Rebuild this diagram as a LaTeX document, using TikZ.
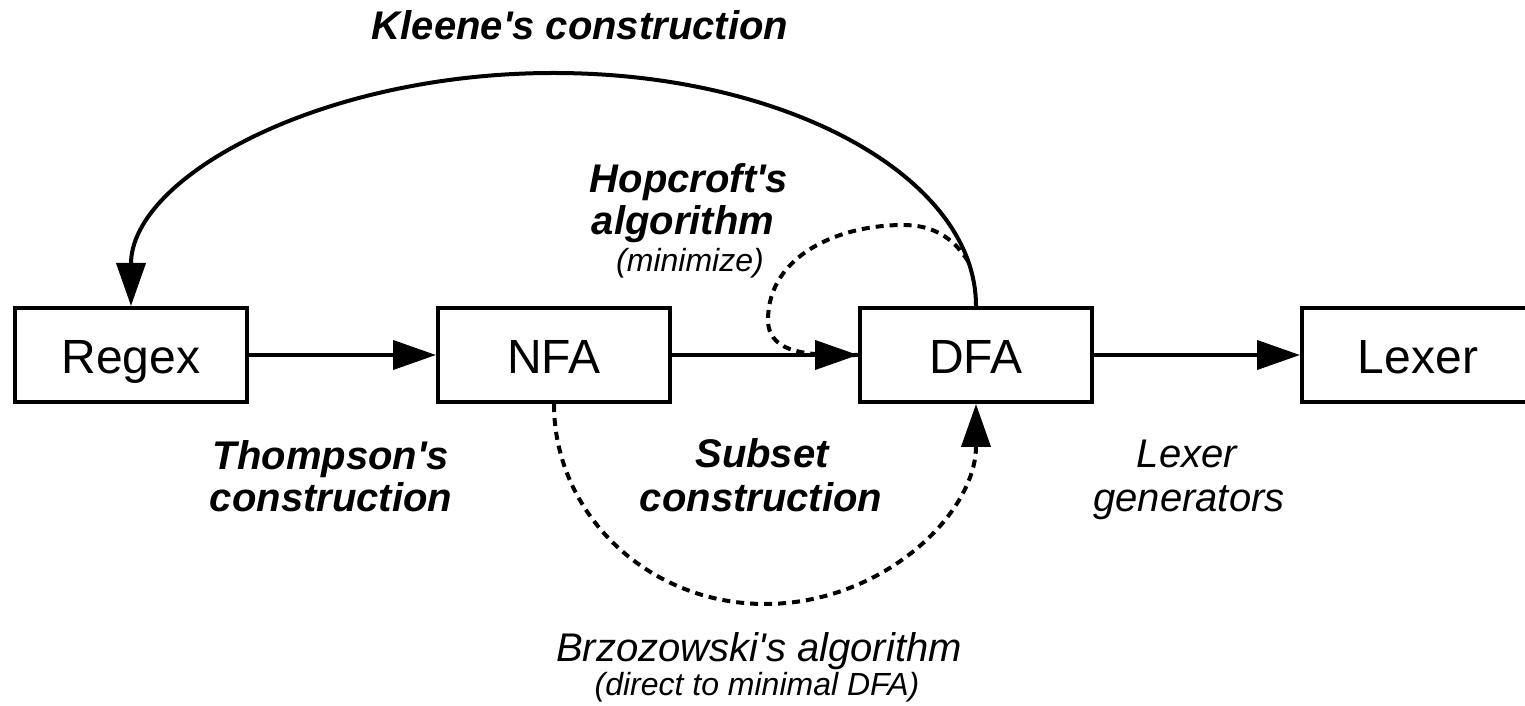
\documentclass[tikz,border=0pt]{standalone}
\usepackage{fontspec}
\newfontfamily\lsans{Liberation Sans}
\usetikzlibrary{arrows.meta,calc}
\begin{document}
\begin{tikzpicture}[x=1pt,y=1pt,
  box/.style={draw, line width=4pt, minimum width=232pt, minimum height=94pt,
    inner sep=0pt, text height=38pt, text depth=0pt, font=\lsans\fontsize{48}{52}\selectfont},
  conn/.style={line width=4pt, -{Triangle[length=43pt,width=29pt]}},
  dashconn/.style={conn, dash pattern=on 8pt off 6pt},
  dashline/.style={line width=4pt, dash pattern=on 8pt off 6pt},
  bl/.style={anchor=base, inner sep=0pt, font=\lsans\bfseries\itshape\fontsize{40}{44}\selectfont},
  il/.style={anchor=base, inner sep=0pt, font=\lsans\itshape\fontsize{40}{44}\selectfont},
  sl/.style={anchor=base, inner sep=0pt, font=\lsans\itshape\fontsize{32}{36}\selectfont}]
\useasboundingbox (0,0) rectangle (1525,706);
\node[box] (regex) at (131,351) {Regex};
\node[box] (nfa) at (554,351) {NFA};
\node[box] (dfa) at (976,351) {DFA};
\node[box] (lexer) at (1418,351) {Lexer};

% Hopcroft loop (dashed, shares the NFA->DFA arrowhead)
\coordinate (hs) at ($(dfa.north)+(-422.5,0)+(11:422.5 and 233)$);
\draw[dashline] (hs) to[out=122,in=0] (903,481) to[out=180,in=90] (768,386) to[out=-90,in=180] (dfa.west);

\draw[conn] (regex) -- (nfa);
\draw[conn] (nfa) -- (dfa);
\draw[conn] (dfa) -- (lexer);

% Kleene's construction
\draw[conn] (dfa.north) arc[start angle=0, end angle=180, x radius=422.5, y radius=233];
% Brzozowski
\draw[dashconn] (nfa.south) arc[start angle=180, end angle=360, x radius=211, y radius=200];

% labels
\node[bl] (kl) at (580,666) {Kleene's construction};
\node[bl] (hop1) at (689,513) {Hopcroft's};
\node[bl] (hop2) at (683,471) {algorithm};
\node[sl] (hop3) at (690,434) {(minimize)};
\node[bl] (th1) at (331,236) {Thompson's};
\node[bl] (th2) at (331,194) {construction};
\node[bl] (sb1) at (762,238) {Subset};
\node[bl] (sb2) at (761,194) {construction};
\node[il] (lg1) at (1187,238) {Lexer};
\node[il] (lg2) at (1189,194) {generators};
\node[il] (bz1) at (759,44) {Brzozowski's algorithm};
\node[sl] (bz2) at (757,10) {(direct to minimal DFA)};
\end{tikzpicture}
\end{document}
